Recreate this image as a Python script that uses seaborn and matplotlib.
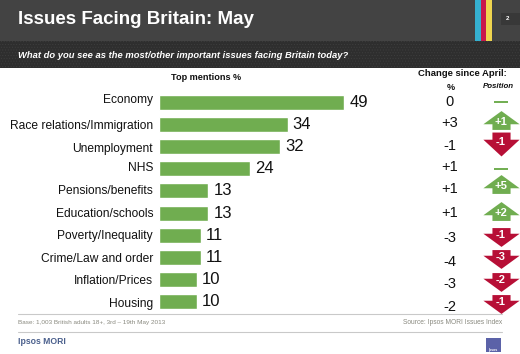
# Issues Facing Britain - May (Ipsos MORI slide)

import pandas as pd
import seaborn as sns
import matplotlib.pyplot as plt
from matplotlib.path import Path
from matplotlib.patches import Rectangle
from matplotlib.transforms import ScaledTranslation, blended_transform_factory

# Chart values
issues = ["Economy", "Race relations/Immigration", "Unemployment", "NHS",
          "Pensions/benefits", "Education/schools", "Poverty/Inequality",
          "Crime/Law and order", "Inflation/Prices", "Housing"]
mentions = [49, 34, 32, 24, 13, 13, 11, 11, 10, 10]
change_pct = ["0", "+3", "-1", "+1", "+1", "+1", "-3", "-4", "-3", "-2"]
change_pos = [0, 1, -1, 0, 5, 2, -1, -3, -2, -1]

# Hand nudges in pixels, the slide's rows are not evenly placed
label_nudge = [-3.5, 0, 1, -2, -1, -1, -0.5, 0, 0, 1]
pct_nudge = [0, -1.5, -1, -2, -2, 0, 2.5, 4, 4, 5]
arrow_nudge = [0, -4.5, -3, 0, -7, -2, 1.5, 1, 2, 2]

GREEN = "#70ad50"
RED = "#b70f36"

sns.set_theme(style="white")
plt.rcParams["font.family"] = ["Liberation Sans", "DejaVu Sans"]
plt.rcParams["hatch.linewidth"] = 0.4

W, H = 520, 354
ROW_PX = 22.2
fig = plt.figure(figsize=(W / 100, H / 100), dpi=100)
fig.patch.set_facecolor("white")

# Full page layer in pixel coordinates for the slide furniture
page = fig.add_axes([0, 0, 1, 1], zorder=0)
page.set_xlim(0, W)
page.set_ylim(H, 0)
page.axis("off")

page.add_patch(Rectangle((0, 0), W, 41, color="#434343", lw=0))
page.add_patch(Rectangle((0, 41), W, 27, facecolor="#2e2e2e", edgecolor="#3e3e3e",
                         hatch="......", lw=0))
page.add_patch(Rectangle((475, 0), 5.5, 41, color="#35b0d0", lw=0))
page.add_patch(Rectangle((480.5, 0), 5.5, 41, color="#c8174c", lw=0))
page.add_patch(Rectangle((486, 0), 6, 41, color="#efd54f", lw=0))
page.add_patch(Rectangle((501, 13), 19, 12, color="#383838", lw=0))
page.add_patch(Rectangle((486, 338), 15, 14, color="#5b62a8", lw=0))
page.plot([18, 502], [314, 314], color="#c9c9c9", lw=0.8)
page.plot([18, 502], [332, 332], color="#c9c9c9", lw=0.8)

page.text(18, 19.5, "Issues Facing Britain: May", color="white", fontsize=13.5,
          fontweight="bold", va="center")
page.text(508, 18.5, "2", color="white", fontsize=4.5, fontweight="bold",
          ha="center", va="center")
page.text(18, 55, "What do you see as the most/other important issues facing Britain today?",
          color="white", fontsize=6.75, fontweight="bold", style="italic", va="center")
page.text(206, 77, "Top mentions %", color="#111111", fontsize=6.6,
          fontweight="bold", ha="center", va="center")
page.text(462.5, 74, "Change since April:", color="#111111", fontsize=6.8,
          fontweight="bold", ha="center", va="center")
page.text(451, 88, "%", color="#111111", fontsize=6.6, fontweight="bold",
          ha="center", va="center")
page.text(498, 86.5, "Position", color="#111111", fontsize=5.7,
          fontweight="bold", style="italic", ha="center", va="center")
page.text(18, 322.5, "Base: 1,003 British adults 18+, 3rd – 19th May 2013",
          color="#8a8a80", fontsize=4.6, va="center")
page.text(502, 323, "Source: Ipsos MORI Issues Index", color="#8a8a80",
          fontsize=4.8, ha="right", va="center")
page.text(18, 342, "Ipsos MORI", color="#4a5f8c", fontsize=6.2,
          fontweight="bold", va="center")
page.text(493.5, 349.5, "Ipsos", color="white", fontsize=2.6,
          fontweight="bold", ha="center", va="center")

# Bars
df = pd.DataFrame({"issue": issues, "mentions": mentions})
ax = fig.add_axes([159 / W, 1 - 313 / H, (W - 159) / W, 222 / H], zorder=1)
ax.patch.set_alpha(0)
sns.barplot(data=df, x="mentions", y="issue", color=GREEN, saturation=1,
            width=0.68, ax=ax)
ax.set_xlim(0, (W - 159) / 3.78)
ax.set_ylim(9.5, -0.5)
ax.set_xlabel("")
ax.set_ylabel("")
ax.set_xticks([])
ax.tick_params(axis="y", length=0, pad=4.3, labelsize=8.65, labelcolor="#111111")
sns.despine(ax=ax, left=True, bottom=True)
ax.bar_label(ax.containers[0], padding=3.8, fontsize=12, color="#111111")

for lab, dy in zip(ax.get_yticklabels(), label_nudge):
    lab.set_transform(lab.get_transform() + ScaledTranslation(0, -dy / 100, fig.dpi_scale_trans))

# Right hand columns, x in axes fraction and y in row numbers
tr = blended_transform_factory(ax.transAxes, ax.transData)
pct_x = (450 - 159) / (W - 159)
pos_x = (501 - 159) / (W - 159)


def arrow(sign, half=0.25):
    # arrow pointing up (sign 1) or down (sign -1), scatter scales it to s
    split = -0.1 * sign * half / 0.25
    return Path([(-0.5, split), (0, sign * half), (0.5, split), (0.25, split),
                 (0.25, -sign * half), (-0.25, -sign * half), (-0.25, split),
                 (-0.5, split)], closed=True)


for row, (pct, pos) in enumerate(zip(change_pct, change_pos)):
    ax.text(pct_x, row + pct_nudge[row] / ROW_PX, pct, transform=tr, fontsize=10.5,
            color="#111111", ha="center", va="center")
    y = row + arrow_nudge[row] / ROW_PX
    if pos == 0:
        ax.scatter([pos_x], [y], transform=tr, marker="_", s=100, color=GREEN,
                   linewidths=1.4, clip_on=False)
        continue
    half = 0.33 if row == 2 else 0.26
    ax.scatter([pos_x], [y], transform=tr, marker=arrow(1 if pos > 0 else -1, half),
               s=680, color=GREEN if pos > 0 else RED, linewidths=0, clip_on=False)
    ax.text(pos_x, y + (0.09 if pos > 0 else -0.09), f"{pos:+d}", transform=tr, fontsize=8,
            color="white", fontweight="bold", ha="center", va="center")

fig.savefig("out.png", dpi=100)
